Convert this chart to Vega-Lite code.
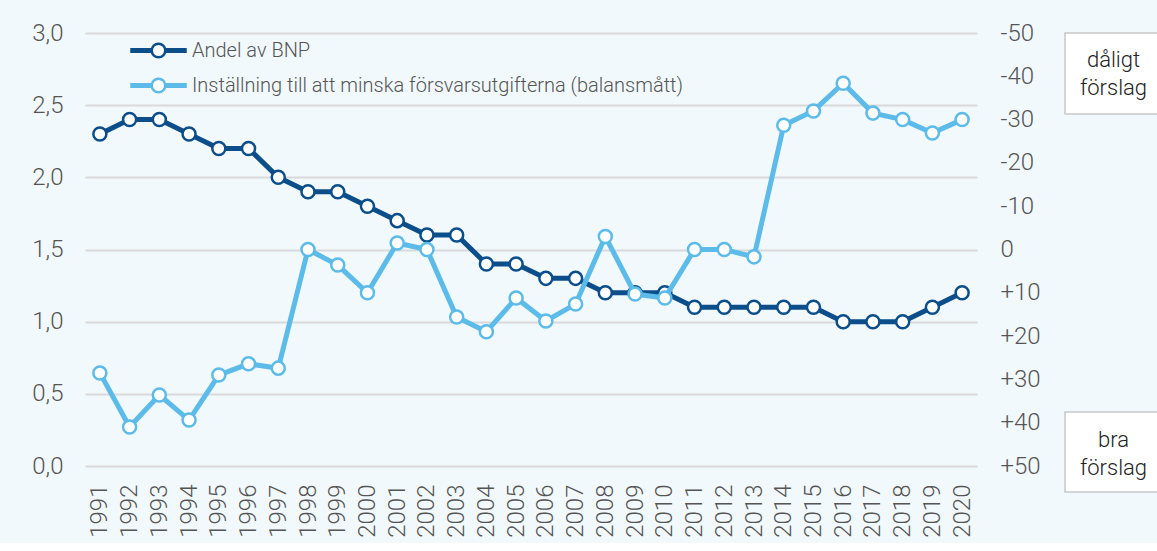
{
  "$schema": "https://vega.github.io/schema/vega-lite/v6.json",
  "background": "#f1f9fd",
  "padding": {"left": 10, "top": 21, "right": 0, "bottom": 5},
  "spacing": 23,
  "config": {
    "view": {"stroke": null},
    "font": "Roboto",
    "axis": {"labelFont": "Roboto", "labelFontWeight": 300, "labelColor": "#555555", "labelFontSize": 24, "ticks": false, "domain": false, "title": null},
    "legend": {"labelFont": "Roboto", "labelFontWeight": 300}
  },
  "hconcat": [
    {
      "width": 892,
      "height": 433,
      "data": {
        "values": [
          {"year": "1991", "bnp": 2.3, "inst": 28.5},
          {"year": "1992", "bnp": 2.4, "inst": 41},
          {"year": "1993", "bnp": 2.4, "inst": 33.6},
          {"year": "1994", "bnp": 2.3, "inst": 39.4},
          {"year": "1995", "bnp": 2.2, "inst": 29},
          {"year": "1996", "bnp": 2.2, "inst": 26.4},
          {"year": "1997", "bnp": 2.0, "inst": 27.4},
          {"year": "1998", "bnp": 1.9, "inst": 0},
          {"year": "1999", "bnp": 1.9, "inst": 3.6},
          {"year": "2000", "bnp": 1.8, "inst": 10},
          {"year": "2001", "bnp": 1.7, "inst": -1.5},
          {"year": "2002", "bnp": 1.6, "inst": 0},
          {"year": "2003", "bnp": 1.6, "inst": 15.6},
          {"year": "2004", "bnp": 1.4, "inst": 19},
          {"year": "2005", "bnp": 1.4, "inst": 11.2},
          {"year": "2006", "bnp": 1.3, "inst": 16.5},
          {"year": "2007", "bnp": 1.3, "inst": 12.6},
          {"year": "2008", "bnp": 1.2, "inst": -3},
          {"year": "2009", "bnp": 1.2, "inst": 10.3},
          {"year": "2010", "bnp": 1.2, "inst": 11.2},
          {"year": "2011", "bnp": 1.1, "inst": 0},
          {"year": "2012", "bnp": 1.1, "inst": 0},
          {"year": "2013", "bnp": 1.1, "inst": 1.7},
          {"year": "2014", "bnp": 1.1, "inst": -28.7},
          {"year": "2015", "bnp": 1.1, "inst": -32},
          {"year": "2016", "bnp": 1.0, "inst": -38.4},
          {"year": "2017", "bnp": 1.0, "inst": -31.5},
          {"year": "2018", "bnp": 1.0, "inst": -30},
          {"year": "2019", "bnp": 1.1, "inst": -26.9},
          {"year": "2020", "bnp": 1.2, "inst": -30}
        ]
      },
      "encoding": {
        "x": {
          "field": "year", "type": "ordinal",
          "scale": {"type": "point", "padding": 0.5},
          "axis": {"labelAngle": -90, "labelPadding": 18, "labelAlign": "right", "labelBaseline": "middle"}
        }
      },
      "layer": [
        {
          "mark": {"type": "line", "strokeWidth": 5, "point": {"filled": false, "fill": "white", "size": 170, "strokeWidth": 2.5, "opacity": 1}},
          "encoding": {
            "y": {
              "field": "bnp", "type": "quantitative",
              "scale": {"domain": [0, 3], "nice": false},
              "axis": {"values": [0, 0.5, 1, 1.5, 2, 2.5, 3], "grid": true, "gridColor": "#d9d9d9", "gridWidth": 2, "labelPadding": 22, "minExtent": 75, "maxExtent": 75,
                "labelExpr": "replace(format(datum.value, '.1f'), '.', ',')"}
            },
            "color": {
              "datum": "Andel av BNP",
              "scale": {"domain": ["Andel av BNP", "Inställning till att minska försvarsutgifterna (balansmått)"], "range": ["#0b4e8a", "#5cbbe8"]},
              "legend": {
                "orient": "none", "legendX": 58.5, "legendY": 2.5, "title": null,
                "labelFontSize": 20, "labelColor": "#555555", "labelOffset": 18.5, "labelLimit": 700,
                "symbolType": "M-2,-0.09H-0.52V0.09H-2Z M0.52,-0.09H2V0.09H0.52Z M-0.5,0A0.5,0.5,0,1,0,0.5,0A0.5,0.5,0,1,0,-0.5,0Z",
                "symbolSize": 729, "symbolStrokeWidth": 2.5, "symbolFillColor": "white", "rowPadding": 8
              }
            }
          }
        },
        {
          "mark": {"type": "line", "strokeWidth": 5, "point": {"filled": false, "fill": "white", "size": 170, "strokeWidth": 2.5, "opacity": 1}},
          "encoding": {
            "y": {
              "field": "inst", "type": "quantitative",
              "scale": {"domain": [-50, 50], "reverse": true, "nice": false},
              "axis": {"orient": "right", "values": [-50, -40, -30, -20, -10, 0, 10, 20, 30, 40, 50], "grid": false, "labelPadding": 23, "minExtent": 60, "maxExtent": 60,
                "labelExpr": "datum.value > 0 ? '+' + datum.value : '' + datum.value"}
            },
            "color": {"datum": "Inställning till att minska försvarsutgifterna (balansmått)"}
          }
        }
      ],
      "resolve": {"scale": {"y": "independent"}}
    },
    {
      "width": 97,
      "height": 433,
      "data": {
        "values": [
          {"txt": "dåligt\nförslag", "top": -50, "bottom": -31.3, "mid": -43.8},
          {"txt": "bra\nförslag", "top": 37.5, "bottom": 56, "mid": 44}
        ]
      },
      "layer": [
        {
          "mark": {"type": "rect", "fill": "white", "stroke": "#c8c8c8", "strokeWidth": 1.5},
          "encoding": {
            "x": {"datum": 0, "type": "quantitative", "scale": {"domain": [0, 1]}, "axis": null},
            "x2": {"datum": 1},
            "y": {"field": "top", "type": "quantitative", "scale": {"domain": [-50, 50], "reverse": true, "nice": false}, "axis": null},
            "y2": {"field": "bottom"}
          }
        },
        {
          "mark": {"type": "text", "lineBreak": "\n", "fontSize": 22, "fontWeight": 300, "lineHeight": 28, "color": "#222222", "align": "center", "baseline": "middle", "font": "Roboto"},
          "encoding": {
            "x": {"datum": 0.5, "type": "quantitative", "scale": {"domain": [0, 1]}, "axis": null},
            "y": {"field": "mid", "type": "quantitative", "scale": {"domain": [-50, 50], "reverse": true, "nice": false}, "axis": null},
            "text": {"field": "txt"}
          }
        }
      ]
    }
  ]
}
